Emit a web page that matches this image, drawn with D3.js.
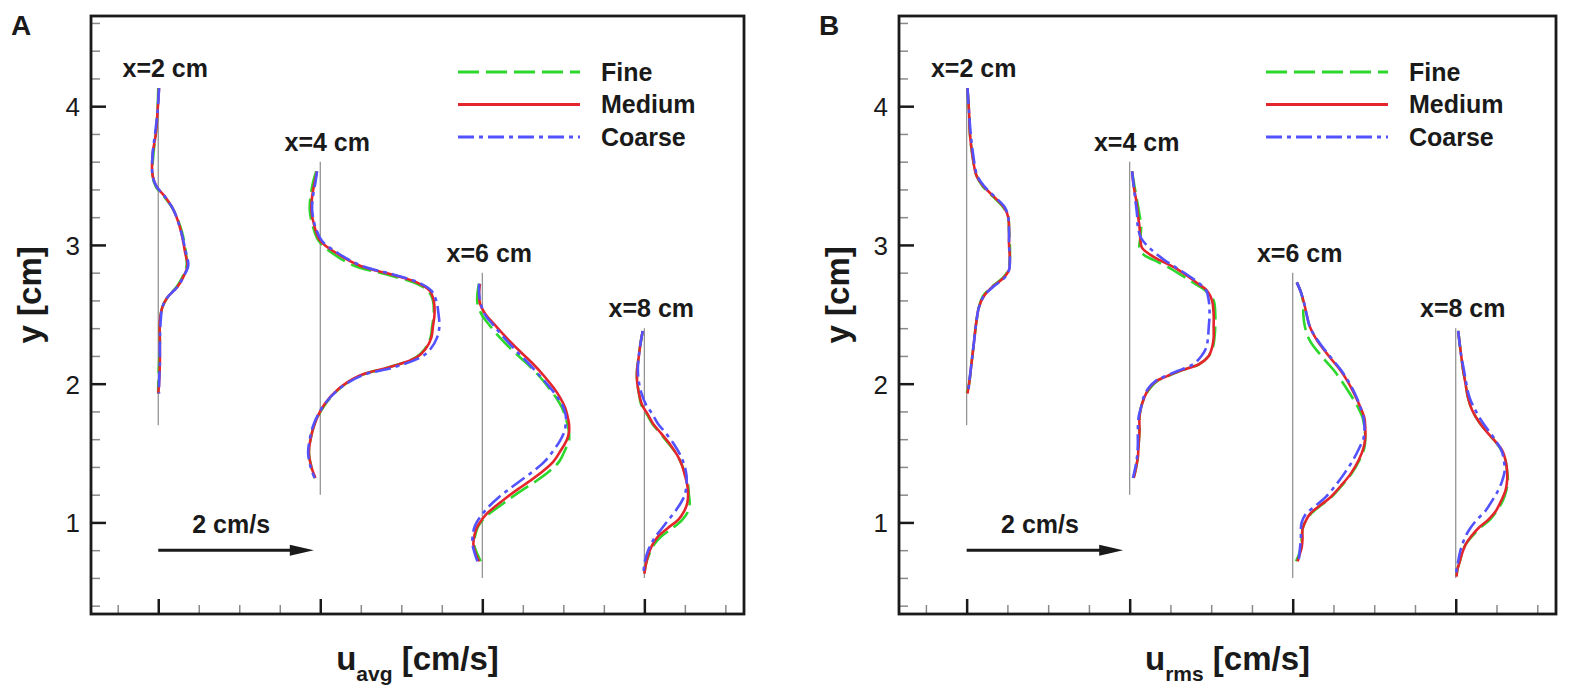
<!DOCTYPE html>
<html>
<head>
<meta charset="utf-8">
<script src="https://cdn.jsdelivr.net/npm/d3@7/dist/d3.min.js"></script>
<style>
  body { margin: 0; background: #fff; }
  text { font-family: "Liberation Sans", Arial, Helvetica, sans-serif; fill: #1a1a1a; }
</style>
</head>
<body>
<script>
// ---- stations along the channel ----
var stations = [2, 4, 6, 8];
var stationLabels = ["x=2 cm", "x=4 cm", "x=6 cm", "x=8 cm"];
var baseTop = [4.13, 3.6, 2.8, 2.4];     // extent of the thin zero lines
var baseBottom = [1.7, 1.2, 0.6, 0.6];

// ---- axis ticks ----
var yMajor = [1, 2, 3, 4];
var yMinor = [0.4, 0.6, 0.8, 1.2, 1.4, 1.6, 1.8, 2.2, 2.4, 2.6, 2.8, 3.2, 3.4, 3.6, 3.8, 4.2, 4.4, 4.6];
var xMajor = [2, 4, 6, 8];
var xMinor = [1.5, 2.5, 3, 3.5, 4.5, 5, 5.5, 6.5, 7, 7.5, 8.5, 9];

var seriesNames = ["Fine", "Medium", "Coarse"];

// ---- panel A : u_avg profiles (offset from station, plot units) ----
var yA2 = [4.13, 3.95, 3.8, 3.65, 3.5, 3.42, 3.35, 3.25, 3.1, 2.95, 2.85, 2.77, 2.7, 2.62, 2.55, 2.45, 2.3, 2.15, 2.0, 1.93];
var fineA2 = [0.0, -0.01, -0.03, -0.06, -0.07, -0.03, 0.07, 0.19, 0.29, 0.34, 0.35, 0.30, 0.23, 0.11, 0.05, 0.02, 0.02, 0.01, 0.0, 0.0];
var medA2 = [0.01, -0.01, -0.03, -0.07, -0.07, -0.02, 0.08, 0.19, 0.28, 0.33, 0.36, 0.31, 0.24, 0.11, 0.05, 0.02, 0.02, 0.02, 0.01, 0.0];
var coarseA2 = [0.01, -0.01, -0.04, -0.07, -0.07, -0.02, 0.08, 0.19, 0.28, 0.34, 0.37, 0.31, 0.24, 0.11, 0.05, 0.03, 0.02, 0.02, 0.01, 0.01];

var yA4 = [3.53, 3.45, 3.35, 3.25, 3.13, 3.03, 2.94, 2.85, 2.79, 2.73, 2.67, 2.6, 2.5, 2.41, 2.33, 2.25, 2.19, 2.12, 2.06, 1.97, 1.85, 1.71, 1.6, 1.5, 1.4, 1.32];
var fineA4 = [-0.05, -0.09, -0.12, -0.13, -0.09, -0.02, 0.15, 0.42, 0.80, 1.15, 1.33, 1.39, 1.40, 1.38, 1.36, 1.29, 1.18, 0.86, 0.50, 0.25, 0.06, -0.07, -0.12, -0.14, -0.11, -0.07];
var medA4 = [-0.04, -0.07, -0.10, -0.11, -0.07, 0.0, 0.20, 0.49, 0.86, 1.19, 1.35, 1.40, 1.41, 1.39, 1.37, 1.30, 1.19, 0.86, 0.49, 0.24, 0.05, -0.07, -0.12, -0.14, -0.11, -0.06];
var coarseA4 = [-0.04, -0.06, -0.09, -0.10, -0.06, 0.02, 0.22, 0.51, 0.88, 1.21, 1.37, 1.43, 1.46, 1.47, 1.44, 1.36, 1.24, 0.92, 0.52, 0.25, 0.05, -0.08, -0.13, -0.15, -0.12, -0.07];

var yA6 = [2.72, 2.65, 2.58, 2.5, 2.42, 2.33, 2.23, 2.14, 2.05, 1.97, 1.9, 1.83, 1.77, 1.71, 1.65, 1.59, 1.52, 1.44, 1.37, 1.3, 1.24, 1.18, 1.12, 1.06, 1.0, 0.96, 0.9, 0.84, 0.77, 0.72];
var fineA6 = [-0.04, -0.06, -0.06, -0.01, 0.09, 0.22, 0.39, 0.56, 0.71, 0.82, 0.91, 0.98, 1.02, 1.05, 1.07, 1.07, 1.02, 0.95, 0.83, 0.67, 0.51, 0.36, 0.22, 0.08, -0.02, -0.06, -0.09, -0.10, -0.06, -0.02];
var medA6 = [-0.03, -0.04, -0.03, 0.04, 0.16, 0.30, 0.47, 0.63, 0.77, 0.88, 0.96, 1.02, 1.05, 1.07, 1.07, 1.04, 0.97, 0.88, 0.75, 0.59, 0.44, 0.30, 0.17, 0.05, -0.03, -0.07, -0.10, -0.11, -0.08, -0.04];
var coarseA6 = [-0.04, -0.04, -0.02, 0.03, 0.14, 0.27, 0.43, 0.58, 0.72, 0.84, 0.93, 1.00, 1.03, 1.03, 1.01, 0.96, 0.88, 0.77, 0.63, 0.47, 0.33, 0.20, 0.09, 0.00, -0.07, -0.10, -0.12, -0.12, -0.09, -0.06];

var yA8 = [2.38, 2.28, 2.19, 2.1, 2.02, 1.94, 1.85, 1.78, 1.71, 1.64, 1.56, 1.49, 1.42, 1.34, 1.27, 1.2, 1.14, 1.08, 1.02, 0.96, 0.9, 0.84, 0.77, 0.7, 0.63];
var fineA8 = [-0.02, -0.05, -0.07, -0.09, -0.09, -0.07, -0.04, 0.03, 0.10, 0.20, 0.31, 0.40, 0.46, 0.51, 0.54, 0.55, 0.56, 0.54, 0.47, 0.35, 0.21, 0.12, 0.06, 0.02, 0.0];
var medA8 = [-0.02, -0.05, -0.07, -0.09, -0.09, -0.07, -0.03, 0.04, 0.11, 0.21, 0.32, 0.40, 0.46, 0.50, 0.53, 0.54, 0.53, 0.49, 0.42, 0.29, 0.17, 0.10, 0.05, 0.02, 0.0];
var coarseA8 = [-0.02, -0.05, -0.07, -0.08, -0.07, -0.04, 0.02, 0.10, 0.17, 0.27, 0.37, 0.44, 0.49, 0.52, 0.52, 0.50, 0.45, 0.38, 0.30, 0.22, 0.14, 0.08, 0.03, 0.0, -0.01];

// ---- panel B : u_rms profiles ----
var yB2 = [4.13, 3.95, 3.8, 3.65, 3.5, 3.42, 3.35, 3.27, 3.2, 3.1, 3.0, 2.9, 2.82, 2.76, 2.7, 2.63, 2.55, 2.45, 2.3, 2.15, 2.0, 1.93];
var fineB2 = [0.01, 0.03, 0.04, 0.07, 0.12, 0.20, 0.32, 0.45, 0.51, 0.52, 0.53, 0.53, 0.51, 0.44, 0.31, 0.20, 0.15, 0.12, 0.09, 0.06, 0.03, 0.0];
var medB2 = [0.01, 0.03, 0.04, 0.07, 0.12, 0.21, 0.33, 0.46, 0.51, 0.52, 0.52, 0.53, 0.52, 0.45, 0.32, 0.21, 0.15, 0.12, 0.09, 0.06, 0.03, 0.01];
var coarseB2 = [0.01, 0.03, 0.05, 0.08, 0.13, 0.22, 0.34, 0.47, 0.51, 0.52, 0.52, 0.53, 0.52, 0.46, 0.33, 0.21, 0.15, 0.12, 0.09, 0.06, 0.03, 0.02];

var yB4 = [3.53, 3.42, 3.32, 3.22, 3.13, 3.05, 2.98, 2.93, 2.89, 2.84, 2.78, 2.72, 2.67, 2.6, 2.5, 2.41, 2.33, 2.26, 2.2, 2.14, 2.09, 2.05, 2.02, 1.96, 1.9, 1.83, 1.76, 1.66, 1.56, 1.47, 1.4, 1.32];
var fineB4 = [0.03, 0.06, 0.09, 0.12, 0.14, 0.13, 0.12, 0.17, 0.30, 0.47, 0.64, 0.80, 0.93, 1.03, 1.05, 1.05, 1.04, 1.02, 0.97, 0.85, 0.61, 0.45, 0.34, 0.24, 0.18, 0.14, 0.12, 0.12, 0.11, 0.10, 0.08, 0.05];
var medB4 = [0.03, 0.05, 0.08, 0.10, 0.12, 0.13, 0.15, 0.25, 0.37, 0.54, 0.70, 0.84, 0.95, 1.01, 1.03, 1.03, 1.03, 1.01, 0.97, 0.85, 0.60, 0.44, 0.33, 0.23, 0.18, 0.14, 0.12, 0.12, 0.11, 0.10, 0.08, 0.05];
var coarseB4 = [0.03, 0.05, 0.07, 0.09, 0.10, 0.14, 0.24, 0.34, 0.43, 0.56, 0.72, 0.86, 0.94, 0.97, 0.98, 0.97, 0.96, 0.94, 0.88, 0.78, 0.58, 0.42, 0.32, 0.22, 0.17, 0.14, 0.11, 0.10, 0.10, 0.09, 0.07, 0.04];

var yB6 = [2.73, 2.66, 2.58, 2.5, 2.41, 2.31, 2.18, 2.1, 2.02, 1.92, 1.83, 1.75, 1.68, 1.61, 1.54, 1.45, 1.35, 1.27, 1.18, 1.12, 1.06, 1.0, 0.95, 0.88, 0.82, 0.76, 0.72];
var fineB6 = [0.05, 0.10, 0.13, 0.13, 0.15, 0.21, 0.38, 0.50, 0.60, 0.71, 0.80, 0.86, 0.88, 0.89, 0.88, 0.82, 0.72, 0.61, 0.47, 0.34, 0.22, 0.15, 0.12, 0.11, 0.10, 0.07, 0.04];
var medB6 = [0.05, 0.10, 0.14, 0.17, 0.21, 0.30, 0.47, 0.58, 0.67, 0.76, 0.83, 0.88, 0.89, 0.89, 0.87, 0.81, 0.71, 0.60, 0.46, 0.33, 0.21, 0.15, 0.12, 0.12, 0.11, 0.08, 0.06];
var coarseB6 = [0.05, 0.10, 0.14, 0.17, 0.21, 0.31, 0.48, 0.59, 0.68, 0.77, 0.83, 0.87, 0.88, 0.87, 0.82, 0.74, 0.63, 0.53, 0.40, 0.28, 0.16, 0.11, 0.10, 0.10, 0.09, 0.08, 0.07];

var yB8 = [2.38, 2.28, 2.19, 2.1, 2.0, 1.9, 1.81, 1.72, 1.64, 1.58, 1.52, 1.45, 1.37, 1.3, 1.23, 1.16, 1.08, 1.02, 0.96, 0.9, 0.84, 0.78, 0.72, 0.66, 0.61];
var fineB8 = [0.03, 0.05, 0.07, 0.09, 0.12, 0.15, 0.20, 0.29, 0.40, 0.49, 0.56, 0.61, 0.63, 0.64, 0.62, 0.58, 0.50, 0.42, 0.30, 0.20, 0.12, 0.08, 0.05, 0.02, 0.01];
var medB8 = [0.03, 0.05, 0.07, 0.09, 0.12, 0.15, 0.20, 0.29, 0.40, 0.49, 0.57, 0.61, 0.63, 0.63, 0.61, 0.56, 0.49, 0.40, 0.28, 0.19, 0.12, 0.08, 0.05, 0.02, 0.01];
var coarseB8 = [0.03, 0.05, 0.07, 0.10, 0.13, 0.17, 0.24, 0.33, 0.43, 0.50, 0.56, 0.59, 0.60, 0.57, 0.52, 0.45, 0.36, 0.26, 0.18, 0.12, 0.08, 0.05, 0.03, 0.01, 0.0];

// reference arrow "2 cm/s"
var arrowY = 0.8;
var arrowLen = 1.92;

//----- drawing -----//
var W = 1570, H = 698;
var svg = d3.select("body").append("svg").attr("width", W).attr("height", H);

var colors = ["#2bd82b", "#e4252b", "#5252ff"];
var dashes = ["21,7", null, "16,5,4,5"];

function build(ys, f, m, c) {
  return [f, m, c].map(function(u) {
    return ys.map(function(y, i) { return {y: y, u: u[i]}; });
  });
}

var panels = [
  {letter: "A", left: 91, width: 653, sub: "avg",
   profiles: [build(yA2, fineA2, medA2, coarseA2), build(yA4, fineA4, medA4, coarseA4),
              build(yA6, fineA6, medA6, coarseA6), build(yA8, fineA8, medA8, coarseA8)]},
  {letter: "B", left: 899, width: 657, sub: "rms",
   profiles: [build(yB2, fineB2, medB2, coarseB2), build(yB4, fineB4, medB4, coarseB4),
              build(yB6, fineB6, medB6, coarseB6), build(yB8, fineB8, medB8, coarseB8)]}
];

var plotTop = 16, ph = 598;

function drawPanel(p) {
  var g = svg.append("g").attr("transform", "translate(" + p.left + "," + plotTop + ")");
  var x = d3.scaleLinear().domain([1.17, 9.23]).range([0, p.width]);
  var y = d3.scaleLinear().domain([0.34, 4.65]).range([ph, 0]);

  // minor ticks
  g.append("g").call(d3.axisLeft(y).tickValues(yMinor).tickSize(-9).tickFormat(""))
    .call(function(a) { a.select(".domain").remove(); a.selectAll("line").attr("stroke", "#8a8a8a").attr("stroke-width", 1.5); });
  g.append("g").attr("transform", "translate(0," + ph + ")")
    .call(d3.axisBottom(x).tickValues(xMinor).tickSize(-9).tickFormat(""))
    .call(function(a) { a.select(".domain").remove(); a.selectAll("line").attr("stroke", "#8a8a8a").attr("stroke-width", 1.5); });

  // major ticks
  var ya = g.append("g").call(d3.axisLeft(y).tickValues(yMajor).tickSize(-15).tickPadding(11).tickFormat(d3.format("d")));
  ya.select(".domain").remove();
  ya.selectAll("line").attr("stroke", "#1a1a1a").attr("stroke-width", 2.5);
  ya.selectAll("text").style("font-size", "26px").attr("fill", "#1a1a1a").attr("dy", "0.36em");

  var xa = g.append("g").attr("transform", "translate(0," + ph + ")")
    .call(d3.axisBottom(x).tickValues(xMajor).tickSize(-15).tickFormat(""));
  xa.select(".domain").remove();
  xa.selectAll("line").attr("stroke", "#1a1a1a").attr("stroke-width", 2.5);

  // frame
  g.append("rect").attr("width", p.width).attr("height", ph)
    .attr("fill", "none").attr("stroke", "#1a1a1a").attr("stroke-width", 2.8);

  // zero lines of each station
  g.selectAll(".base").data(stations).enter().append("line")
    .attr("x1", function(d) { return x(d); }).attr("x2", function(d) { return x(d); })
    .attr("y1", function(d, i) { return y(baseTop[i]); })
    .attr("y2", function(d, i) { return y(baseBottom[i]); })
    .attr("stroke", "#8c8c8c").attr("stroke-width", 1.2);

  // station labels
  g.selectAll(".slab").data(stations).enter().append("text")
    .attr("x", function(d) { return x(d) + 7; })
    .attr("y", function(d, i) { return y(baseTop[i]) - 11; })
    .attr("text-anchor", "middle").style("font-size", "25px").style("font-weight", "bold")
    .text(function(d, i) { return stationLabels[i]; });

  // profiles
  p.profiles.forEach(function(prof, si) {
    var st = stations[si];
    var line = d3.line()
      .x(function(d) { return x(st + d.u); })
      .y(function(d) { return y(d.y); })
      .curve(d3.curveCatmullRom.alpha(0.5));
    prof.forEach(function(ser, k) {
      g.append("path").attr("d", line(ser))
        .attr("fill", "none").attr("stroke", colors[k]).attr("stroke-width", 2.6)
        .attr("stroke-dasharray", dashes[k]);
    });
  });

  // legend
  var leg = g.append("g");
  seriesNames.forEach(function(n, k) {
    var ly = 56 + k * 32.5;
    leg.append("line").attr("x1", 367).attr("x2", 489).attr("y1", ly).attr("y2", ly)
      .attr("stroke", colors[k]).attr("stroke-width", 3).attr("stroke-dasharray", dashes[k]);
    leg.append("text").attr("x", 510).attr("y", ly + 8.5)
      .style("font-size", "25px").style("font-weight", "bold").text(n);
  });

  // reference arrow
  var ax0 = x(stations[0]), ax1 = x(stations[0] + arrowLen), ay = y(arrowY);
  g.append("line").attr("x1", ax0).attr("x2", ax1 - 20).attr("y1", ay).attr("y2", ay)
    .attr("stroke", "#1a1a1a").attr("stroke-width", 3);
  g.append("path").attr("d", "M" + ax1 + "," + ay + "L" + (ax1 - 24) + "," + (ay - 5.5) + "L" + (ax1 - 24) + "," + (ay + 5.5) + "Z")
    .attr("fill", "#1a1a1a");
  g.append("text").attr("x", x(stations[0] + 0.9)).attr("y", ay - 17)
    .attr("text-anchor", "middle").style("font-size", "25px").style("font-weight", "bold")
    .text("2 cm/s");

  // axis titles
  var xt = g.append("text").attr("x", p.width / 2).attr("y", 654)
    .attr("text-anchor", "middle").style("font-size", "33px").style("font-weight", "bold");
  xt.append("tspan").text("u");
  xt.append("tspan").attr("dy", 11).style("font-size", "21px").text(p.sub);
  xt.append("tspan").attr("dy", -11).text(" [cm/s]");

  g.append("text").attr("transform", "translate(-50," + (y(2.64)) + ") rotate(-90)")
    .attr("text-anchor", "middle").style("font-size", "33px").style("font-weight", "bold")
    .text("y [cm]");

  // panel letter
  svg.append("text").attr("x", p.left - 80).attr("y", 35)
    .style("font-size", "28px").style("font-weight", "bold").text(p.letter);
}

panels.forEach(drawPanel);
</script>
</body>
</html>
